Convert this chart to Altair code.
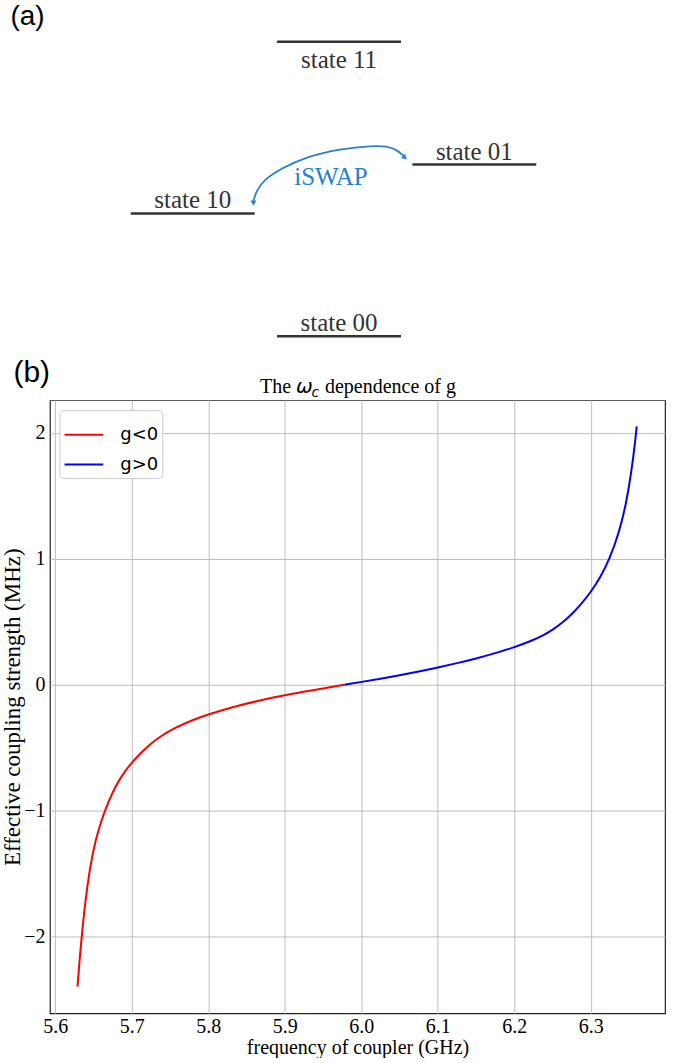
import altair as alt
import pandas as pd

# ---------------- panel (a): energy-level diagram ----------------
level_names = ["state 00", "state 10", "state 01", "state 11"]
level_energy = [0.0, 0.417, 0.583, 1.0]
level_center = [0.0, -1.039, 0.961, 0.0]
level_half_width = 0.44
label_side = ["above", "above", "above", "below"]

arc_x = [0.463, 0.409, 0.338, 0.243, 0.007, -0.229, -0.418, -0.537, -0.584, -0.603, -0.608]
arc_e = [0.610, 0.634, 0.645, 0.647, 0.636, 0.610, 0.568, 0.529, 0.495, 0.467, 0.459]
arrow_x = [0.468, -0.608]
arrow_e = [0.606, 0.452]
arrow_angle = [315, 0]

iswap_text = ["iSWAP"]
iswap_x = [-0.057]
iswap_e = [0.512]

panel_text = ["(a)", "(b)"]
panel_x = [-2.333, -2.312]
panel_e = [1.057, -0.156]
panel_size = [28, 30]

title_x = [-0.305]
title_e = [-0.193]

A_XDOM = [-2.404, 2.553]
A_YDOM = [-0.217, 1.139]

# ---------------- panel (b): coupling strength ----------------
freq_red = [5.6290, 5.6320, 5.6347, 5.6390, 5.6456, 5.6521, 5.6600, 5.6651, 5.6760,
            5.6870, 5.6978, 5.7100, 5.7239, 5.7400, 5.7543, 5.7804, 5.8000, 5.8326,
            5.8675, 5.9001, 5.9415, 5.9780]
g_red = [-2.398, -2.170, -1.990, -1.730, -1.440, -1.245, -1.085, -0.995, -0.835,
         -0.722, -0.633, -0.553, -0.470, -0.400, -0.349, -0.277, -0.236, -0.176,
         -0.124, -0.083, -0.038, 0.0]
freq_blue = [5.9780, 6.0000, 6.0250, 6.0500, 6.0750, 6.1000, 6.1250, 6.1500, 6.1750,
             6.2000, 6.2250, 6.2373, 6.2500, 6.2634, 6.2750, 6.2852, 6.3000, 6.3125,
             6.3244, 6.3375, 6.3462, 6.3527, 6.3570, 6.3600]
g_blue = [0.0, 0.022, 0.048, 0.075, 0.104, 0.136, 0.171, 0.208, 0.250,
          0.297, 0.355, 0.390, 0.435, 0.495, 0.560, 0.625, 0.735, 0.855,
          0.995, 1.220, 1.440, 1.680, 1.880, 2.052]
series_names = ["g<0", "g>0"]
series_colors = ["#ff0000", "#0000ff"]
x_ticks = [5.6, 5.7, 5.8, 5.9, 6.0, 6.1, 6.2, 6.3]
y_ticks = [-2, -1, 0, 1, 2]

SERIF = "Liberation Serif"
SANS = "Liberation Sans"

PLOT_W, PLOT_H = 616, 614
LEFT = 49.5      # room left of the plot area
TOP = 400        # room above the plot area (panel a)
FULL_W = 699


def ax(field):
    return alt.X(field, type="quantitative",
                 scale=alt.Scale(domain=A_XDOM, range=[-LEFT, FULL_W - LEFT], nice=False, zero=False),
                 axis=None)


def ay(field):
    return alt.Y(field, type="quantitative",
                 scale=alt.Scale(domain=A_YDOM, range=[0, -TOP], nice=False, zero=False),
                 axis=None)


bg_df = pd.DataFrame({"x0": [A_XDOM[0]], "x1": [A_XDOM[1]], "y0": [A_YDOM[0]], "y1": [A_YDOM[1]]})
bg = alt.Chart(bg_df).mark_rect(fill="white", opacity=1).encode(
    x=ax("x0"), x2="x1", y=ay("y0"), y2="y1")

levels = pd.DataFrame({
    "name": level_names,
    "e": level_energy,
    "c": level_center,
    "side": label_side,
})
levels["x0"] = levels["c"] - level_half_width
levels["x1"] = levels["c"] + level_half_width

lines = alt.Chart(levels).mark_rule(color="#333333", strokeWidth=2.5).encode(
    x=ax("x0"), x2="x1", y=ay("e"))

lab_above = alt.Chart(levels).transform_filter(alt.datum.side == "above").mark_text(
    font=SERIF, fontSize=25, color="#333333", align="center", baseline="alphabetic", dy=-5
).encode(x=ax("c"), y=ay("e"), text="name:N")

lab_below = alt.Chart(levels).transform_filter(alt.datum.side == "below").mark_text(
    font=SERIF, fontSize=25, color="#333333", align="center", baseline="alphabetic", dy=26
).encode(x=ax("c"), y=ay("e"), text="name:N")

arc_df = pd.DataFrame({"x": arc_x, "e": arc_e, "i": list(range(len(arc_x)))})
arc = alt.Chart(arc_df).mark_line(color="#2680d0", strokeWidth=1.8, interpolate="basis").encode(
    x=ax("x"), y=ay("e"), order="i:Q")

arrow_df = pd.DataFrame({"x": arrow_x, "e": arrow_e, "ang": arrow_angle})
arrows = alt.Chart(arrow_df).mark_point(shape="triangle-down", filled=True, color="#2680d0",
                                       size=35, opacity=1).encode(
    x=ax("x"), y=ay("e"), angle=alt.Angle("ang:Q", scale=None))

iswap_df = pd.DataFrame({"t": iswap_text, "x": iswap_x, "e": iswap_e})
iswap = alt.Chart(iswap_df).mark_text(font=SERIF, fontSize=25, color="#2680d0", align="center",
                                      baseline="alphabetic").encode(x=ax("x"), y=ay("e"), text="t:N")

panel_df = pd.DataFrame({"t": panel_text, "x": panel_x, "e": panel_e, "s": panel_size})
panels = alt.Chart(panel_df).mark_text(font=SANS, color="#000000", align="left",
                                       baseline="alphabetic").encode(
    x=ax("x"), y=ay("e"), text="t:N", size=alt.Size("s:Q", scale=None))

title_df = pd.DataFrame({"x": title_x, "e": title_e})
t1 = alt.Chart(title_df).mark_text(text="The", font=SERIF, fontSize=20, color="#000", align="right",
                                   baseline="alphabetic", dx=-5).encode(x=ax("x"), y=ay("e"))
t2 = alt.Chart(title_df).mark_text(text="ω", font="DejaVu Sans", fontStyle="italic", fontSize=20,
                                   color="#000", align="left", baseline="alphabetic", dx=0).encode(
    x=ax("x"), y=ay("e"))
t3 = alt.Chart(title_df).mark_text(text="c", font="DejaVu Sans", fontStyle="italic", fontSize=14,
                                   color="#000", align="left", baseline="alphabetic", dx=15.5, dy=4).encode(
    x=ax("x"), y=ay("e"))
t4 = alt.Chart(title_df).mark_text(text="dependence of g", font=SERIF, fontSize=20, color="#000",
                                   align="left", baseline="alphabetic", dx=29).encode(
    x=ax("x"), y=ay("e"))

# ---------------- panel (b) ----------------
df = pd.DataFrame({
    "freq": freq_red + freq_blue,
    "g": g_red + g_blue,
    "series": [series_names[0]] * len(freq_red) + [series_names[1]] * len(freq_blue),
})

curve = alt.Chart(df).mark_line(strokeWidth=2, interpolate="basis").encode(
    x=alt.X("freq:Q",
            scale=alt.Scale(domain=[5.593, 6.397], nice=False, zero=False),
            axis=alt.Axis(values=x_ticks, format=".1f", title="frequency of coupler (GHz)",
                          labelFont=SERIF, labelFontSize=20, labelPadding=3, labelColor="#000",
                          titleFont=SERIF, titleFontSize=20, titleFontWeight="normal", titleColor="#000",
                          titlePadding=1, ticks=False, domain=False, grid=True,
                          gridColor="#bdbdbd", gridWidth=1)),
    y=alt.Y("g:Q",
            scale=alt.Scale(domain=[-2.61, 2.26], nice=False, zero=False),
            axis=alt.Axis(values=y_ticks, format="d", title="Effective coupling strength (MHz)",
                          labelFont=SERIF, labelFontSize=20, labelPadding=5, labelColor="#000",
                          titleFont=SERIF, titleFontSize=23, titleFontWeight="normal", titleColor="#000",
                          titleX=-37, titleBaseline="middle", ticks=False, domain=False, grid=True,
                          gridColor="#bdbdbd", gridWidth=1)),
    color=alt.Color("series:N",
                    scale=alt.Scale(domain=series_names, range=series_colors),
                    legend=alt.Legend(title=None, orient="none", legendX=9.5, legendY=10,
                                      symbolType="stroke", symbolSize=1500, symbolStrokeWidth=2,
                                      labelFont="DejaVu Sans", labelFontSize=18, labelColor="#000",
                                      labelOffset=16, padding=4, rowPadding=0,
                                      fillColor="#ffffff", strokeColor="#cccccc", cornerRadius=4)),
)

chart = alt.layer(
    curve, bg, lines, lab_above, lab_below, arc, arrows, iswap, panels, t1, t2, t3, t4
).resolve_scale(
    x="independent", y="independent"
).properties(
    width=PLOT_W, height=PLOT_H,
    view=alt.ViewBackground(stroke="#222222", strokeWidth=1.2),
    padding={"left": 0, "top": 0, "right": 0, "bottom": 0},
    background="white",
)

chart.save("out.html", embed_options={"renderer": "svg", "actions": False})
